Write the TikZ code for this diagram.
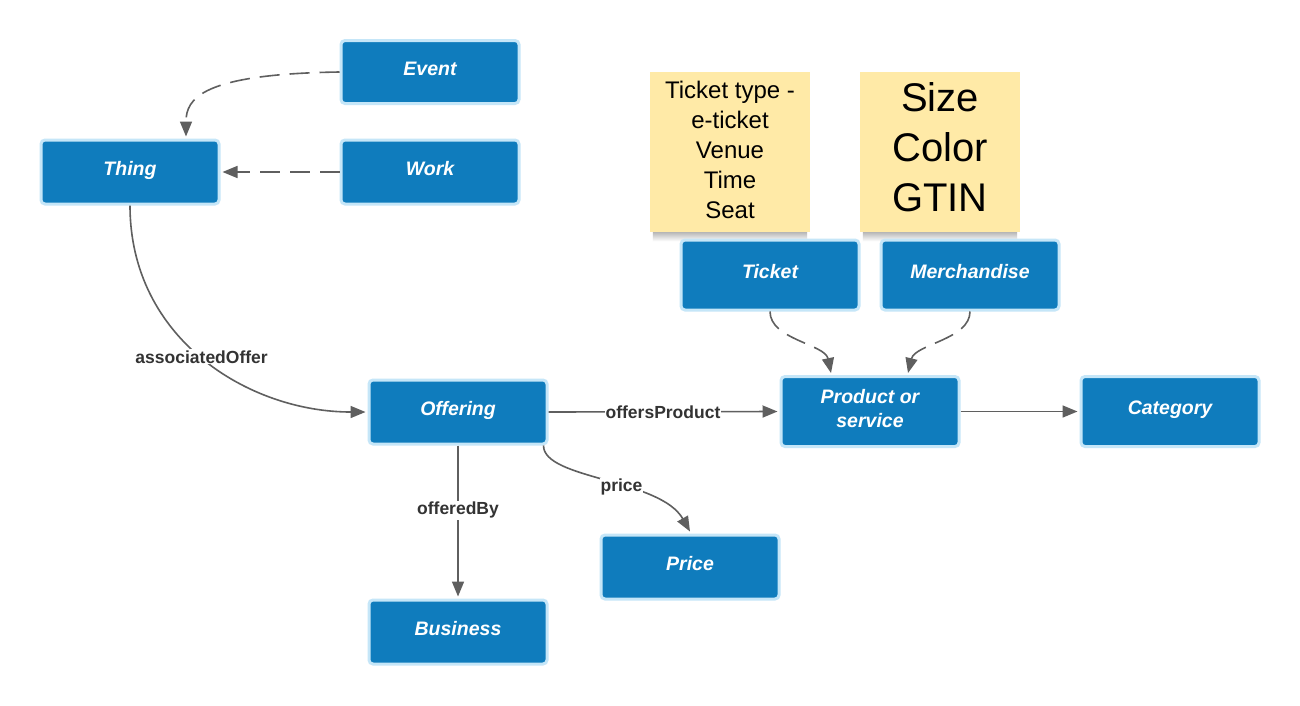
\documentclass[tikz,border=0pt]{standalone}
\usepackage{fontspec}
\setmainfont{Liberation Sans}
\usetikzlibrary{arrows.meta}
\definecolor{boxblue}{RGB}{15,124,189}
\definecolor{boxedge}{RGB}{197,230,248}
\definecolor{linegray}{RGB}{95,95,95}
\definecolor{labelgray}{RGB}{51,51,51}
\definecolor{noteyellow}{RGB}{255,234,167}
\begin{document}
\begin{tikzpicture}[x=1pt,y=-1pt,
  entity/.style={draw=boxedge,line width=3pt,fill=boxblue,rounded corners=4pt,
    minimum width=178pt,minimum height=63pt,text=white,align=center,text depth=7pt,
    font=\fontsize{19.5}{24}\selectfont\bfseries\itshape},
  note/.style={fill=noteyellow,minimum width=160pt,minimum height=160pt,align=center,inner sep=0pt},
  noteshadow/.style={top color=black!28,bottom color=white},
  conn/.style={draw=linegray,line width=1.6pt,-{Triangle[length=15pt,width=12pt]}},
  dashconn/.style={conn,dash pattern=on 20pt off 10pt},
  lbl/.style={fill=white,text=labelgray,inner sep=1pt,font=\fontsize{17.5}{20}\selectfont\bfseries}]
\useasboundingbox[fill=white] (0,0) rectangle (1300,705);

\node[note,text depth=5pt,font=\fontsize{24}{30}\selectfont] (ticketnote) at (730,152) {Ticket type -\\e-ticket\\Venue\\Time\\Seat};
\node[note,text depth=10pt,font=\fontsize{40}{50}\selectfont] (merchnote) at (940,152) {Size\\Color\\GTIN};
\shade[noteshadow] ([xshift=3pt]ticketnote.south west) rectangle ([xshift=-3pt,yshift=-9pt]ticketnote.south east);
\shade[noteshadow] ([xshift=3pt]merchnote.south west) rectangle ([xshift=-3pt,yshift=-9pt]merchnote.south east);

\node[entity] (event) at (430,72) {Event};
\node[entity,minimum height=64pt] (thing) at (130,172) {Thing};
\node[entity,minimum height=64pt] (work) at (430,172) {Work};
\node[entity,minimum height=70pt] (ticket) at (770,275) {Ticket};
\node[entity,minimum height=70pt] (merch) at (970,275) {Merchandise};
\node[entity,minimum height=64pt] (offering) at (458,412) {Offering};
\node[entity,minimum height=70pt] (product) at (870,411.5) {Product or\\service};
\node[entity,minimum height=70pt] (category) at (1170,411.5) {Category};
\node[entity,minimum height=64pt] (price) at (690,567) {Price};
\node[entity,minimum height=64pt] (business) at (458,632) {Business};

\draw[dashconn] (event.west) .. controls +(-138,2) and +(0,-38) .. ([xshift=56pt,yshift=2pt]thing.north);
\draw[dashconn] (work.west) -- ([xshift=2pt]thing.east);
\draw[conn] (thing.south) .. controls +(0,134) and +(-116,0) .. ([xshift=-2pt]offering.west)
  node[lbl,pos=0.49] {associatedOffer};
\draw[conn] (offering.east) -- node[lbl,pos=0.5] {offersProduct} ([xshift=-2pt]product.west);
\draw[conn] (product.east) -- ([xshift=-2pt]category.west);
\draw[conn] (offering.south) -- node[lbl,pos=0.43] {offeredBy} ([yshift=2pt]business.north);
\draw[conn] ([xshift=-5pt]offering.south east) .. controls +(0,34) and +(-30,-53) .. ([yshift=2pt]price.north)
  node[lbl,pos=0.58] {price};
\draw[dashconn] (ticket.south) .. controls +(0,28) and +(-6,-29) .. ([xshift=-39pt,yshift=2pt]product.north);
\draw[dashconn] (merch.south) .. controls +(0,28) and +(7,-29) .. ([xshift=38pt,yshift=2pt]product.north);
\end{tikzpicture}
\end{document}
